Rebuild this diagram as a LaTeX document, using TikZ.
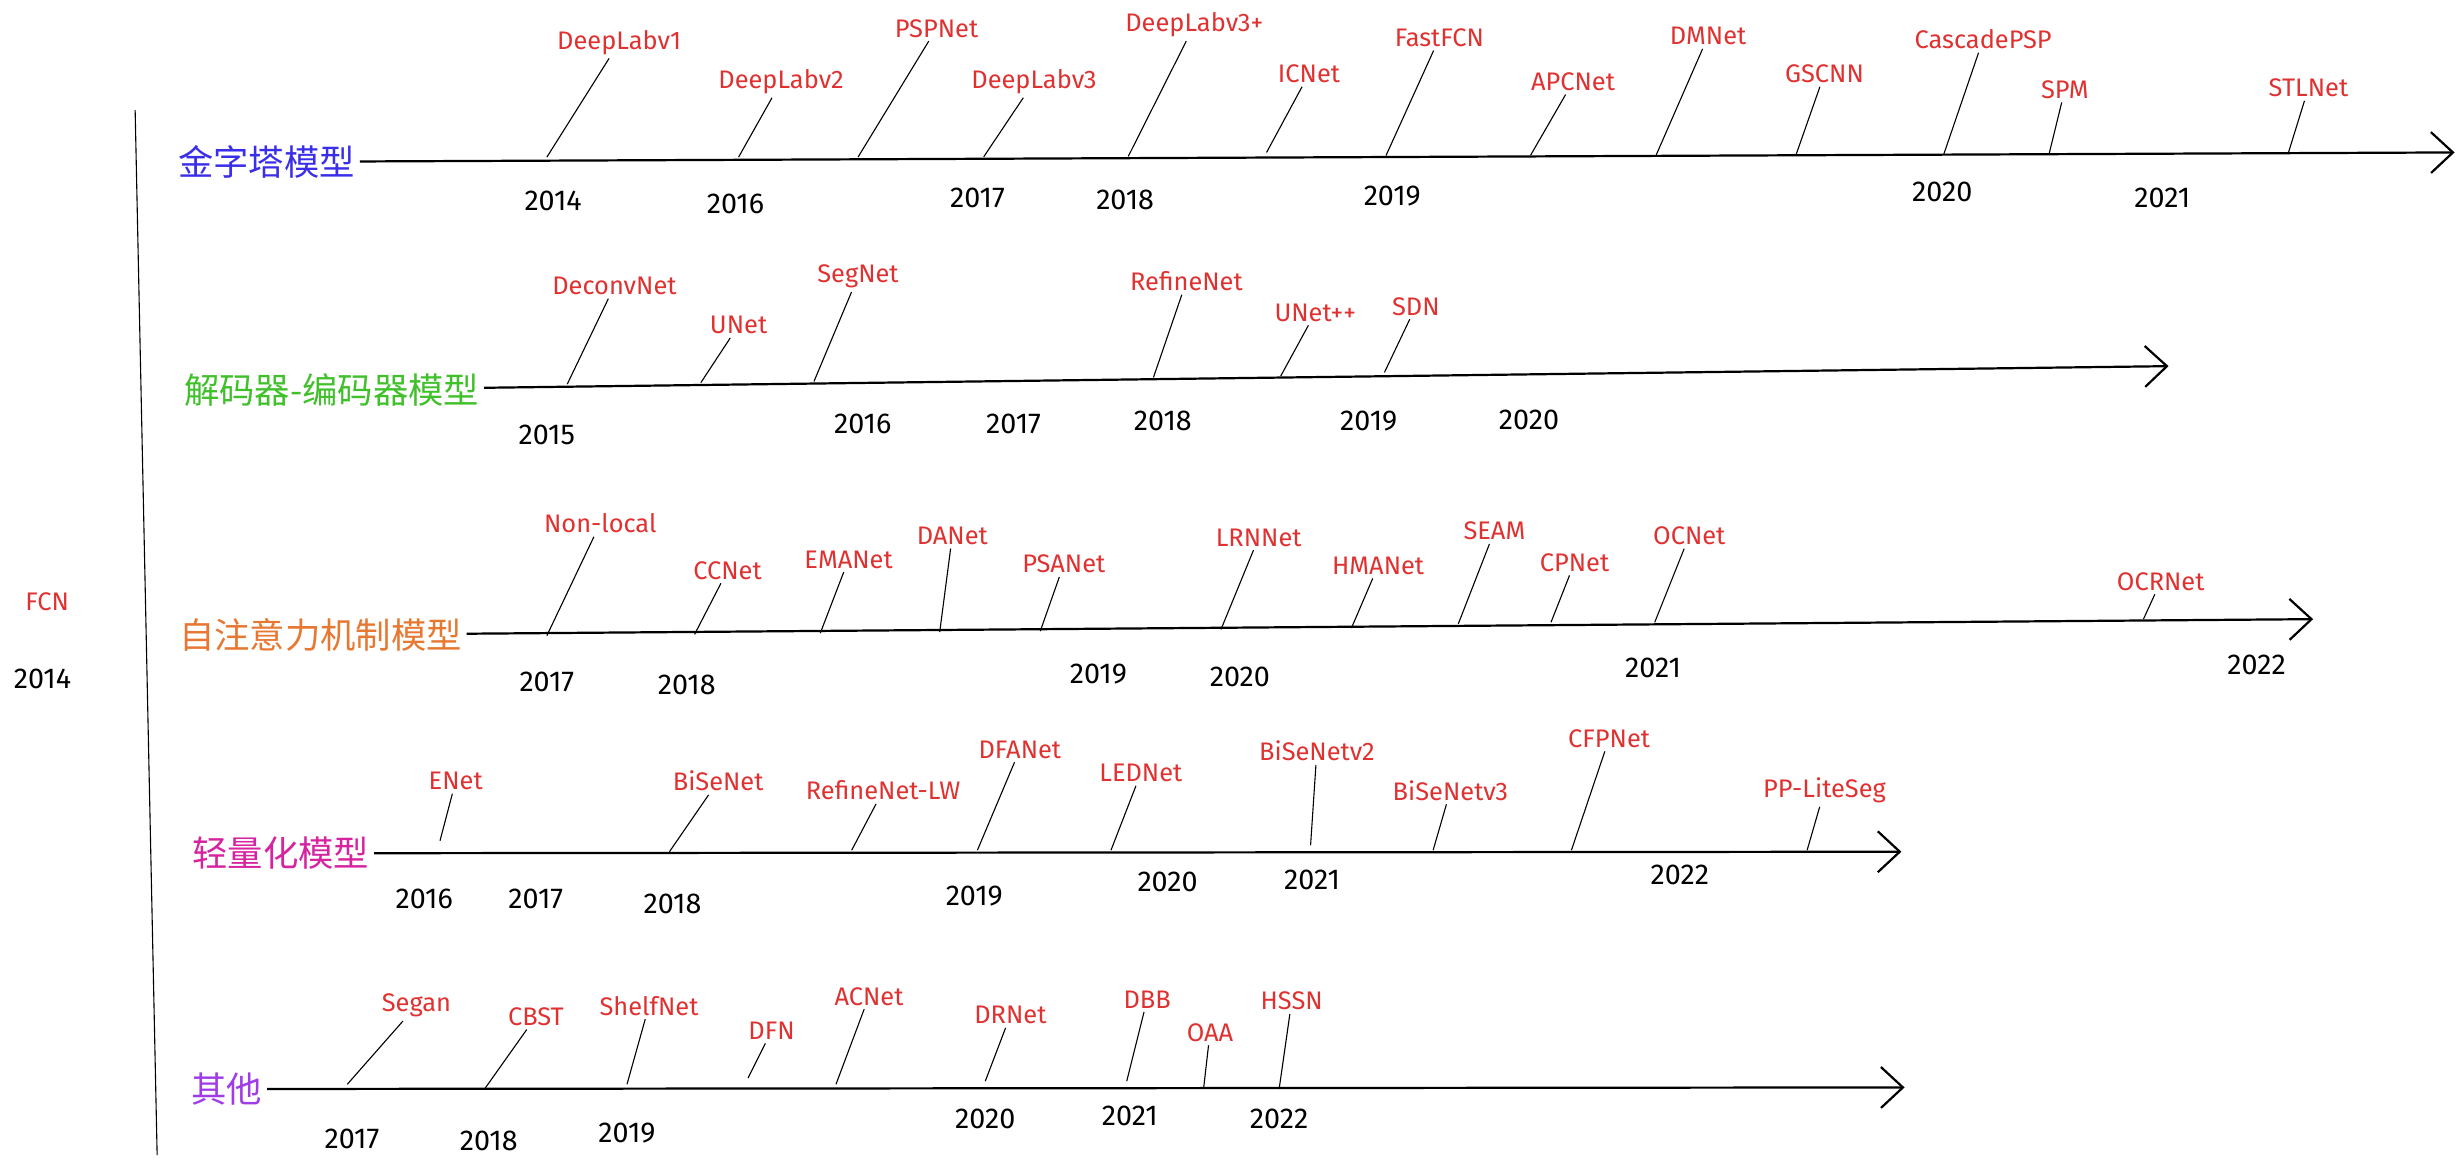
\documentclass[tikz,border=0pt]{standalone}
\usepackage{fontspec}
\setmainfont{Fira Sans}
\newfontfamily\cjkfont{Noto Sans CJK SC}
\usepackage{xcolor}
\definecolor{modelred}{RGB}{224, 49, 49}
\definecolor{pyrblue}{RGB}{59, 46, 232}
\definecolor{decgreen}{RGB}{64, 192, 43}
\definecolor{attorange}{RGB}{230, 120, 50}
\definecolor{lwmagenta}{RGB}{214, 36, 160}
\definecolor{othpurple}{RGB}{160, 60, 230}
\usepackage{tikz}
\usetikzlibrary{arrows.meta}

\begin{document}
\begin{tikzpicture}[x=0.025cm, y=-0.025cm,
        model/.style={text=modelred, font=\fontsize{11.5}{13}\selectfont, inner sep=1.5pt},
        yearlbl/.style={text=black, font=\fontsize{13}{15}\selectfont, inner sep=1pt},
        family/.style={anchor=east, font=\cjkfont\fontsize{16}{18}\selectfont, inner sep=2pt},
        timeline/.style={draw=black, line width=1pt, -{Straight Barb[length=3.5mm, width=6.5mm, line width=1pt]}},
        stemline/.style={draw=black, line width=0.5pt}]

        \useasboundingbox (0,0) rectangle (1568,745);

        % root
        \node [model] (fcn) at (30,383) {FCN};
        \node [yearlbl] (fcnyr) at (27,432) {2014};
        \coordinate (vtop) at (86,70);
        \coordinate (vbot) at (100,735);
        \path [stemline] (vtop) -- (vbot);

        % pyramid models
        \node [family, text=pyrblue] (pyr) at (229,103) {金字塔模型};
        \coordinate (pyrend) at (1562,97);
        \path [timeline] (pyr) -- (pyrend);

        \node [model] (dlv1) at (394,27) {DeepLabv1};
        \node [model] (dlv2) at (497,52) {DeepLabv2};
        \node [model] (pspnet) at (596,18) {PSPNet};
        \node [model] (dlv3) at (658,52) {DeepLabv3};
        \node [model] (dlv3p) at (760,16) {DeepLabv3+};
        \node [model] (icnet) at (833,47) {ICNet};
        \node [model] (fastfcn) at (916,24) {FastFCN};
        \node [model] (apcnet) at (1001,52) {APCNet};
        \node [model] (dmnet) at (1087,23) {DMNet};
        \node [model] (gscnn) at (1161,47) {GSCNN};
        \node [model] (cpsp) at (1262,25) {CascadePSP};
        \node [model] (spm) at (1314,57) {SPM};
        \node [model] (stlnet) at (1469,56) {STLNet};

        \coordinate (dlv1a) at (348,100);
        \coordinate (dlv2a) at (470,100);
        \coordinate (pspneta) at (546,100);
        \coordinate (dlv3a) at (626,99.8);
        \coordinate (dlv3pa) at (718,99.5);
        \coordinate (icneta) at (806,97);
        \coordinate (fastfcna) at (882,99);
        \coordinate (apcneta) at (974,98.8);
        \coordinate (dmneta) at (1054,98.5);
        \coordinate (gscnna) at (1143,98.3);
        \coordinate (cpspa) at (1237,98);
        \coordinate (spma) at (1304,97.8);
        \coordinate (stlneta) at (1456,98);

        \path [stemline] (dlv1a) -- (dlv1);
        \path [stemline] (dlv2a) -- (dlv2);
        \path [stemline] (pspneta) -- (pspnet);
        \path [stemline] (dlv3a) -- (dlv3);
        \path [stemline] (dlv3pa) -- (dlv3p);
        \path [stemline] (icneta) -- (icnet);
        \path [stemline] (fastfcna) -- (fastfcn);
        \path [stemline] (apcneta) -- (apcnet);
        \path [stemline] (dmneta) -- (dmnet);
        \path [stemline] (gscnna) -- (gscnn);
        \path [stemline] (cpspa) -- (cpsp);
        \path [stemline] (spma) -- (spm);
        \path [stemline] (stlneta) -- (stlnet);

        \node [yearlbl] (pyr14) at (352,128) {2014};
        \node [yearlbl] (pyr16) at (468,130) {2016};
        \node [yearlbl] (pyr17) at (622,126) {2017};
        \node [yearlbl] (pyr18) at (716,127) {2018};
        \node [yearlbl] (pyr19) at (886,125) {2019};
        \node [yearlbl] (pyr20) at (1236,122) {2020};
        \node [yearlbl] (pyr21) at (1376,126) {2021};

        % encoder-decoder models
        \node [family, text=decgreen] (dec) at (308,248) {解码器-编码器模型};
        \coordinate (decend) at (1380,233);
        \path [timeline] (dec) -- (decend);

        \node [model] (deconv) at (391,182) {DeconvNet};
        \node [model] (unet) at (470,207) {UNet};
        \node [model] (segnet) at (546,176) {SegNet};
        \node [model] (refine) at (755,179) {RefineNet};
        \node [model] (unetpp) at (837,199) {UNet++};
        \node [model] (sdn) at (901,195) {SDN};

        \coordinate (deconva) at (361,244.4);
        \coordinate (uneta) at (446,243.5);
        \coordinate (segneta) at (518,242.7);
        \coordinate (refinea) at (734,240.2);
        \coordinate (unetppa) at (815,239.3);
        \coordinate (sdna) at (881,237);

        \path [stemline] (deconva) -- (deconv);
        \path [stemline] (uneta) -- (unet);
        \path [stemline] (segneta) -- (segnet);
        \path [stemline] (refinea) -- (refine);
        \path [stemline] (unetppa) -- (unetpp);
        \path [stemline] (sdna) -- (sdn);

        \node [yearlbl] (dec15) at (348,277) {2015};
        \node [yearlbl] (dec16) at (549,270) {2016};
        \node [yearlbl] (dec17) at (645,270) {2017};
        \node [yearlbl] (dec18) at (740,268) {2018};
        \node [yearlbl] (dec19) at (871,268) {2019};
        \node [yearlbl] (dec20) at (973,267) {2020};

        % self-attention models
        \node [family, text=attorange] (att) at (297,404) {自注意力机制模型};
        \coordinate (attend) at (1472,394);
        \path [timeline] (att) -- (attend);

        \node [model] (nonlocal) at (382,333) {Non-local};
        \node [model] (ccnet) at (463,363) {CCNet};
        \node [model] (emanet) at (540,356) {EMANet};
        \node [model] (danet) at (606,341) {DANet};
        \node [model] (psanet) at (677,359) {PSANet};
        \node [model] (lrnnet) at (801,342) {LRNNet};
        \node [model] (hmanet) at (877,360) {HMANet};
        \node [model] (seam) at (951,338) {SEAM};
        \node [model] (cpnet) at (1002,358) {CPNet};
        \node [model] (ocnet) at (1075,341) {OCNet};
        \node [model] (ocrnet) at (1375,370) {OCRNet};

        \coordinate (nonlocala) at (348,404.5);
        \coordinate (ccneta) at (442,403.7);
        \coordinate (emaneta) at (522,402.9);
        \coordinate (daneta) at (598,402.2);
        \coordinate (psaneta) at (662,401.6);
        \coordinate (lrnneta) at (777,400.5);
        \coordinate (hmaneta) at (860,399.7);
        \coordinate (seama) at (928,397);
        \coordinate (cpneta) at (987,396);
        \coordinate (ocneta) at (1053,396);
        \coordinate (ocrneta) at (1364,394);

        \path [stemline] (nonlocala) -- (nonlocal);
        \path [stemline] (ccneta) -- (ccnet);
        \path [stemline] (emaneta) -- (emanet);
        \path [stemline] (daneta) -- (danet);
        \path [stemline] (psaneta) -- (psanet);
        \path [stemline] (lrnneta) -- (lrnnet);
        \path [stemline] (hmaneta) -- (hmanet);
        \path [stemline] (seama) -- (seam);
        \path [stemline] (cpneta) -- (cpnet);
        \path [stemline] (ocneta) -- (ocnet);
        \path [stemline] (ocrneta) -- (ocrnet);

        \node [yearlbl] (att17) at (348,434) {2017};
        \node [yearlbl] (att18) at (437,436) {2018};
        \node [yearlbl] (att19) at (699,429) {2019};
        \node [yearlbl] (att20) at (789,431) {2020};
        \node [yearlbl] (att21) at (1052,425) {2021};
        \node [yearlbl] (att22) at (1436,423) {2022};

        % lightweight models
        \node [family, text=lwmagenta] (lw) at (238,543) {轻量化模型};
        \coordinate (lwend) at (1210,542);
        \path [timeline] (lw) -- (lwend);

        \node [model] (enet) at (290,497) {ENet};
        \node [model] (bisenet) at (457,497) {BiSeNet};
        \node [model] (rnlw) at (562,503) {RefineNet-LW};
        \node [model] (dfanet) at (649,477) {DFANet};
        \node [model] (lednet) at (726,492) {LEDNet};
        \node [model] (bisev2) at (838,478) {BiSeNetv2};
        \node [model] (bisev3) at (923,503) {BiSeNetv3};
        \node [model] (cfpnet) at (1024,470) {CFPNet};
        \node [model] (pplite) at (1161,503) {PP-LiteSeg};

        \coordinate (eneta) at (280,535);
        \coordinate (bisenega) at (426,542);
        \coordinate (rnlwa) at (542,541);
        \coordinate (dfaneta) at (622,541);
        \coordinate (ledneta) at (707,541);
        \coordinate (bisev2a) at (834,538);
        \coordinate (bisev3a) at (912,541);
        \coordinate (cfpneta) at (1000,541);
        \coordinate (pplitea) at (1150,541);

        \path [stemline] (eneta) -- (enet);
        \path [stemline] (bisenega) -- (bisenet);
        \path [stemline] (rnlwa) -- (rnlw);
        \path [stemline] (dfaneta) -- (dfanet);
        \path [stemline] (ledneta) -- (lednet);
        \path [stemline] (bisev2a) -- (bisev2);
        \path [stemline] (bisev3a) -- (bisev3);
        \path [stemline] (cfpneta) -- (cfpnet);
        \path [stemline] (pplitea) -- (pplite);

        \node [yearlbl] (lw16) at (270,572) {2016};
        \node [yearlbl] (lw17) at (341,572) {2017};
        \node [yearlbl] (lw18) at (428,575) {2018};
        \node [yearlbl] (lw19) at (620,570) {2019};
        \node [yearlbl] (lw20) at (743,561) {2020};
        \node [yearlbl] (lw21) at (835,560) {2021};
        \node [yearlbl] (lw22) at (1069,557) {2022};

        % other models
        \node [family, text=othpurple] (oth) at (170,693) {其他};
        \coordinate (othend) at (1212,692);
        \path [timeline] (oth) -- (othend);

        \node [model] (segan) at (265,640) {Segan};
        \node [model] (cbst) at (341,647) {CBST};
        \node [model] (shelfnet) at (413,640) {ShelfNet};
        \node [model] (dfn) at (491,656) {DFN};
        \node [model] (acnet) at (553,634) {ACNet};
        \node [model] (drnet) at (643,646) {DRNet};
        \node [model] (dbb) at (730,636) {DBB};
        \node [model] (oaa) at (770,657) {OAA};
        \node [model] (hssn) at (822,637) {HSSN};

        \coordinate (segana) at (221,690);
        \coordinate (cbsta) at (308,693.5);
        \coordinate (shelfneta) at (399,690);
        \coordinate (dfna) at (476,686);
        \coordinate (acneta) at (532,690);
        \coordinate (drneta) at (627,688);
        \coordinate (dbba) at (717,688);
        \coordinate (oaaa) at (766,692);
        \coordinate (hssna) at (814,693);

        \path [stemline] (segana) -- (segan);
        \path [stemline] (cbsta) -- (cbst);
        \path [stemline] (shelfneta) -- (shelfnet);
        \path [stemline] (dfna) -- (dfn);
        \path [stemline] (acneta) -- (acnet);
        \path [stemline] (drneta) -- (drnet);
        \path [stemline] (dbba) -- (dbb);
        \path [stemline] (oaaa) -- (oaa);
        \path [stemline] (hssna) -- (hssn);

        \node [yearlbl] (oth17) at (224,725) {2017};
        \node [yearlbl] (oth18) at (311,726) {2018};
        \node [yearlbl] (oth19) at (399,721) {2019};
        \node [yearlbl] (oth20) at (627,712) {2020};
        \node [yearlbl] (oth21) at (719,710) {2021};
        \node [yearlbl] (oth22) at (814,712) {2022};
    \end{tikzpicture}
\end{document}
